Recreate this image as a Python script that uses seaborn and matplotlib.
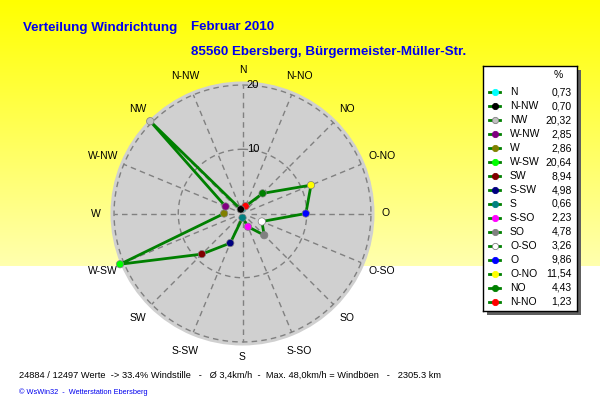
import numpy as np
import pandas as pd
import matplotlib
matplotlib.use("Agg")
import matplotlib.pyplot as plt
from matplotlib.patches import Rectangle
import seaborn as sns

# ---- data (clockwise from North) ----
directions = ["N", "N-NO", "NO", "O-NO", "O", "O-SO", "SO", "S-SO",
              "S", "S-SW", "SW", "W-SW", "W", "W-NW", "NW", "N-NW"]
percent = [0.73, 1.23, 4.43, 11.54, 9.86, 3.26, 4.78, 2.23,
           0.66, 4.98, 8.94, 20.64, 2.86, 2.85, 20.32, 0.70]
marker_colors = ["#00ffff", "#ff0000", "#008000", "#ffff00", "#0000ff", "#ffffff", "#808080", "#ff00ff",
                 "#008080", "#000080", "#800000", "#00ff00", "#808000", "#800080", "#c0c0c0", "#000000"]
legend_order = ["N", "N-NW", "NW", "W-NW", "W", "W-SW", "SW", "S-SW",
                "S", "S-SO", "SO", "O-SO", "O", "O-NO", "NO", "N-NO"]
radial_ticks = [10, 20]

title1 = "Verteilung Windrichtung"
title2 = "Februar 2010"
title3 = "85560 Ebersberg, Bürgermeister-Müller-Str."
footer1 = "24884 / 12497 Werte  -> 33.4% Windstille   -   Ø 3,4km/h  -  Max. 48,0km/h = Windböen   -   2305.3 km"
footer2 = "© WsWin32  -  Wetterstation Ebersberg"

W, H = 600, 412
plt.rcParams['font.family'] = ['Liberation Sans', 'DejaVu Sans']
fig = plt.figure(figsize=(W / 100, H / 100), dpi=100)

# ---- background gradient ----
bg = fig.add_axes([0, 0, 1, 1], zorder=-10)
rows = np.arange(H)
blue = np.where(rows < 266, rows / 266 * 175, 255)
img = np.ones((H, 2, 3))
img[:, :, 2] = (blue / 255.0)[:, None]
bg.imshow(img, aspect='auto', extent=[0, 1, 0, 1], origin='upper')
bg.set_axis_off()

def fx(px):
    return px / W

def fy(py):
    return 1 - py / H

# ---- polar axes ----
cx, cy, rad = 242.5, 213.5, 132.0
rmax = 20.55
ax = fig.add_axes([fx(cx - rad), fy(cy + rad), 2 * rad / W, 2 * rad / H], projection='polar')
ax.set_theta_zero_location('N')
ax.set_theta_direction(-1)
ax.set_ylim(0, rmax)
ax.set_facecolor('#d0d0d0')
ax.spines['polar'].set_visible(False)
ax.grid(False)

theta = np.deg2rad(np.arange(16) * 22.5)
df = pd.DataFrame({"theta": theta, "r": percent, "dir": directions})
closed = pd.concat([df, df.iloc[[0]]], ignore_index=True)

# grid: circles and spokes
tt = np.linspace(0, 2 * np.pi, 361)
for rt in radial_ticks:
    ax.plot(tt, np.full_like(tt, rt), color='#808080', lw=1, ls=(0, (4, 3)), zorder=1)
for th in theta:
    ax.plot([th, th], [1.3, 20], color='#808080', lw=1, ls=(0, (4, 3)), zorder=1)

sns.lineplot(data=closed, x="theta", y="r", sort=False, estimator=None,
             color='#008000', lw=2.0, ax=ax, zorder=3)
palette = dict(zip(directions, marker_colors))
sns.scatterplot(data=df, x="theta", y="r", hue="dir", palette=palette, legend=False,
                s=28, edgecolor='#808080', linewidth=0.5, ax=ax, zorder=4, clip_on=False)
ax.set_ylim(0, rmax)
ax.set_xlabel("")
ax.set_ylabel("")
ax.set_xticks([])
ax.set_yticks([])

for rt in radial_ticks:
    ax.annotate(str(rt), xy=(0, rt), xytext=(3, 0), textcoords='offset points',
                ha='left', va='center', fontsize=8, color='black')

label_r = {"N": 22.4, "O": 22.3, "S": 22.3, "W": 22.8,
           "NO": 23.0, "SO": 23.0, "SW": 23.0, "NW": 23.0,
           "N-NO": 23.2, "N-NW": 23.2, "S-SW": 23.2, "S-SO": 23.2,
           "O-NO": 23.5, "O-SO": 23.5, "W-SW": 23.5, "W-NW": 23.5}
for th, d in zip(theta, directions):
    ax.text(th, label_r[d], d, ha='center', va='center', fontsize=7.5, clip_on=False)

# ---- titles ----
tcol = '#0000ee'
fig.text(fx(23), fy(30.5), title1, color=tcol, fontsize=9.6, fontweight='bold', va='baseline')
fig.text(fx(191), fy(30.5), title2, color=tcol, fontsize=9.6, fontweight='bold', va='baseline')
fig.text(fx(191), fy(55), title3, color=tcol, fontsize=9.6, fontweight='bold', va='baseline')

fig.text(fx(19), fy(378.3), footer1, color='black', fontsize=6.7, va='baseline')
fig.text(fx(19), fy(393.7), footer2, color='#0000ee', fontsize=5.3, va='baseline')

# ---- legend box ----
lx0, ly0, lw_, lh_ = 483, 66, 94, 245
fig.add_artist(Rectangle((fx(lx0 + 4), fy(ly0 + lh_ + 4)), lw_ / W, lh_ / H,
                         transform=fig.transFigure, facecolor='#606060', edgecolor='none', zorder=5))
lax = fig.add_axes([fx(lx0), fy(ly0 + lh_), lw_ / W, lh_ / H], zorder=6)
lax.set_xlim(0, lw_)
lax.set_ylim(lh_, 0)
lax.set_facecolor('white')
for s in lax.spines.values():
    s.set_color('black')
    s.set_linewidth(1)
lax.set_xticks([])
lax.set_yticks([])
lax.text(75, 9, "%", ha='center', va='center', fontsize=7.5)
for i, d in enumerate(legend_order):
    y = 26.3 + i * 13.96
    k = directions.index(d)
    lax.plot([6, 17], [y, y], color='#008000', lw=2)
    lax.plot([11.5], [y], marker='o', ms=4.5, color=marker_colors[k],
             mec='#808080' if marker_colors[k] in ('#ffffff', '#c0c0c0') else marker_colors[k], mew=0.6)
    lax.text(27, y, d, ha='left', va='center', fontsize=7.5)
    lax.text(88.7, y, f"{percent[k]:.2f}".replace('.', ','), ha='right', va='center', fontsize=7.5)

fig.savefig("out.png", dpi=100)
